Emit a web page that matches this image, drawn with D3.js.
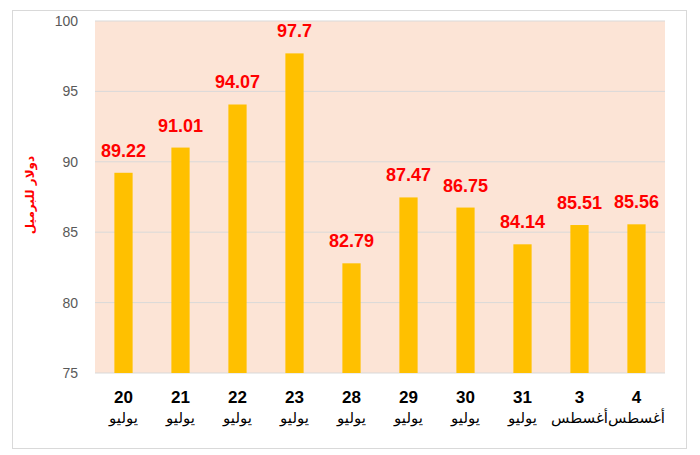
<!DOCTYPE html>
<html>
<head>
<meta charset="utf-8">
<script src="https://cdn.jsdelivr.net/npm/d3@7"></script>
<style>
  body { margin: 0; background: #fff; }
  svg { display: block; font-family: "Liberation Sans", Arial, sans-serif; }
</style>
</head>
<body>
<svg id="chart" width="700" height="455"></svg>
<script>
// chart data
const days = ["20", "21", "22", "23", "28", "29", "30", "31", "3", "4"];
const months = ["يوليو", "يوليو", "يوليو", "يوليو", "يوليو", "يوليو", "يوليو", "يوليو", "أغسطس", "أغسطس"];
const prices = [89.22, 91.01, 94.07, 97.7, 82.79, 87.47, 86.75, 84.14, 85.51, 85.56];
const yTicks = [75, 80, 85, 90, 95, 100];
const yTitle = "دولار للبرميل";

const svg = d3.select("#chart");
const margin = { top: 21, right: 35, bottom: 82, left: 95 };
const W = 700, H = 455;
const w = W - margin.left - margin.right;
const h = H - margin.top - margin.bottom;

// outer frame
svg.append("rect")
  .attr("x", 12.5).attr("y", 10.5)
  .attr("width", 674).attr("height", 438)
  .attr("fill", "#fff")
  .attr("stroke", "#d9d9d9");

const g = svg.append("g").attr("transform", `translate(${margin.left},${margin.top})`);

const x = d3.scaleBand().domain(d3.range(days.length)).range([0, w]).paddingInner(0.68).paddingOuter(0.34);
const y = d3.scaleLinear().domain([75, 100]).range([h, 0]);

// plot background
g.append("rect")
  .attr("width", w).attr("height", h)
  .attr("fill", "#fce4d6");

// gridlines
g.selectAll(".grid").data(yTicks).join("line")
  .attr("x1", 0).attr("x2", w)
  .attr("y1", d => y(d)).attr("y2", d => y(d))
  .attr("stroke", "#d9d9d9").attr("stroke-width", 1);

// y axis
const yAxis = g.append("g")
  .call(d3.axisLeft(y).tickValues(yTicks).tickSize(0).tickPadding(17));
yAxis.select(".domain").remove();
yAxis.selectAll("text")
  .attr("fill", "#595959")
  .style("font-size", "14px");

// bars
g.selectAll(".bar").data(prices).join("rect")
  .attr("x", (d, i) => x(i))
  .attr("y", d => y(d))
  .attr("width", x.bandwidth())
  .attr("height", d => h - y(d))
  .attr("fill", "#ffc000");

// value labels
g.selectAll(".val").data(prices).join("text")
  .attr("x", (d, i) => x(i) + x.bandwidth() / 2)
  .attr("y", d => y(d) - 16)
  .attr("text-anchor", "middle")
  .attr("fill", "#ff0000")
  .style("font-size", "18px")
  .style("font-weight", "bold")
  .text(d => d);

// category labels
const cat = g.selectAll(".cat").data(days).join("g")
  .attr("transform", (d, i) => `translate(${x(i) + x.bandwidth() / 2},${h})`);
cat.append("text")
  .attr("y", 30)
  .attr("text-anchor", "middle")
  .attr("fill", "#000")
  .style("font-size", "17px")
  .style("font-weight", "bold")
  .text(d => d);
cat.append("text")
  .attr("y", 50)
  .attr("text-anchor", "middle")
  .attr("fill", "#000")
  .style("font-size", "15px")
  .style("font-family", "'DejaVu Sans', sans-serif")
  .text((d, i) => months[i]);

// y axis title
svg.append("text")
  .attr("transform", `translate(34,${margin.top + h / 2 - 2}) rotate(-90)`)
  .attr("text-anchor", "middle")
  .attr("fill", "#ff0000")
  .style("font-size", "12px")
  .style("font-weight", "bold")
  .style("font-family", "'DejaVu Sans', sans-serif")
  .text(yTitle);
</script>
</body>
</html>
